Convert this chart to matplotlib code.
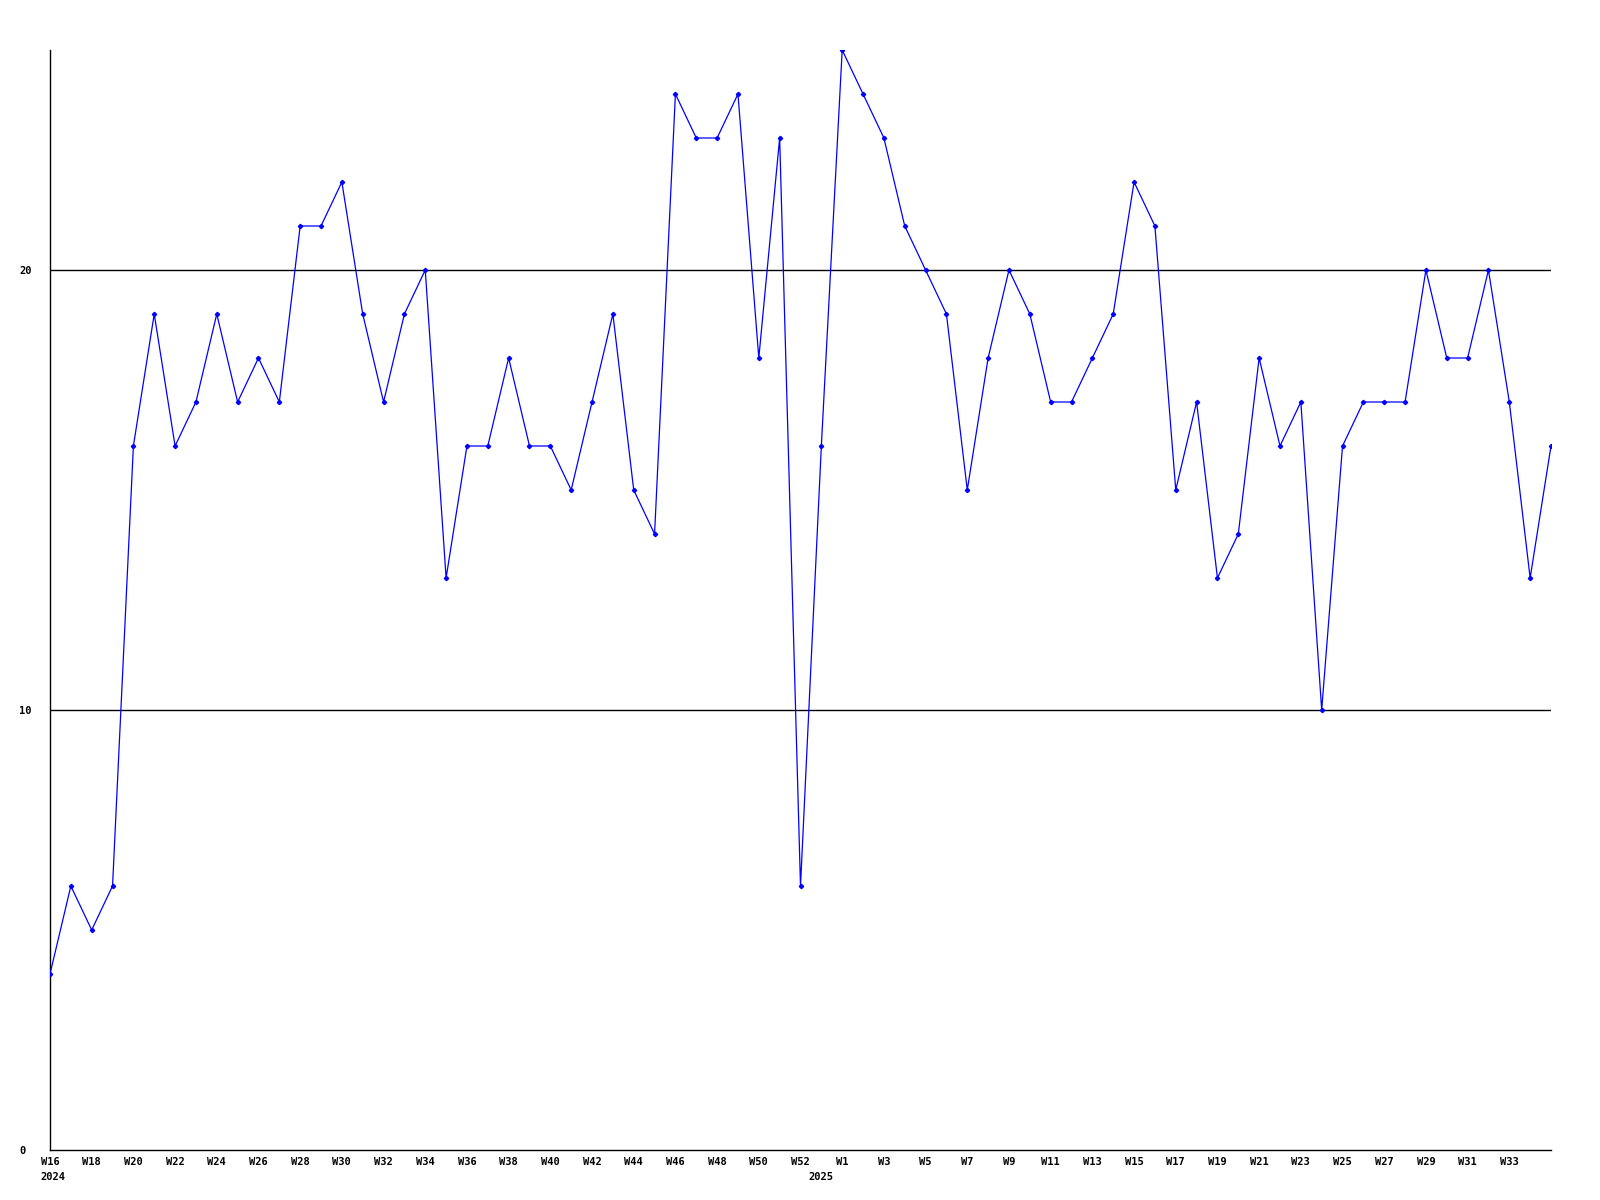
import matplotlib
matplotlib.use("Agg")
import matplotlib.pyplot as plt
import matplotlib.transforms as mtransforms

weeks = ([f"W{w}" for w in range(16, 54)] + [f"W{w}" for w in range(1, 36)])
values = [4, 6, 5, 6, 16, 19, 16, 17, 19, 17, 18, 17, 21, 21, 22, 19, 17, 19, 20, 13,
          16, 16, 18, 16, 16, 15, 17, 19, 15, 14, 24, 23, 23, 24, 18, 23, 6, 16, 25, 24,
          23, 21, 20, 19, 15, 18, 20, 19, 17, 17, 18, 19, 22, 21, 15, 17, 13, 14, 18, 16,
          17, 10, 16, 17, 17, 17, 20, 18, 18, 20, 17, 13, 16]
tick_labels = ([f"W{w}" for w in range(16, 53, 2)] + [f"W{w}" for w in range(1, 34, 2)])
year_labels = ["2024", "2025"]
year_pos = [0.15, 37.0]

font = dict(family="DejaVu Sans Mono", fontweight="bold", fontsize=7.5)

fig = plt.figure(figsize=(16, 12), dpi=100)
ax = fig.add_axes([50/1600, 50/1200, 1501/1600, 1100/1200])

x = list(range(len(values)))
ax.plot(x, values, color="#0000ff", lw=0.9, marker="D", markersize=2.2, zorder=3)

for yv in (10, 20):
    ax.axhline(yv, color="black", lw=1.0, zorder=1)

ax.set_xlim(0, len(values) - 1)
ax.set_ylim(0, 25)
for s in ("top", "right"):
    ax.spines[s].set_visible(False)
for s in ("left", "bottom"):
    ax.spines[s].set_linewidth(1.0)
    ax.spines[s].set_color("black")

tick_pos = [weeks.index(t) if i < 19 else weeks.index(t, 37) for i, t in enumerate(tick_labels)]
ax.set_xticks(tick_pos)
ax.set_xticklabels(tick_labels, **font)
ax.set_yticks([0, 10, 20])
ax.set_yticklabels(["0", "10", "20"], **font)
ax.tick_params(axis="x", length=0, pad=5)
ax.tick_params(axis="y", length=0, pad=22)
for lab in ax.get_yticklabels():
    lab.set_horizontalalignment("left")

trans = mtransforms.blended_transform_factory(ax.transData, fig.transFigure)
for yl, xp in zip(year_labels, year_pos):
    ax.text(xp, 1 - 1177/1200, yl, transform=trans, ha="center", va="center", **font)

fig.savefig("out.png", dpi=100, facecolor="white")
